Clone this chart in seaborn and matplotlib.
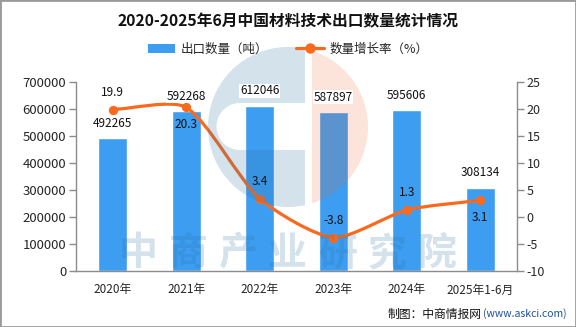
import numpy as np
import matplotlib
matplotlib.use("Agg")
import matplotlib.pyplot as plt
import seaborn as sns
from matplotlib.path import Path
from matplotlib.patches import PathPatch, Patch, Rectangle
from matplotlib.lines import Line2D
from matplotlib.transforms import Affine2D

# ---------------- data ----------------
categories = ["2020年", "2021年", "2022年", "2023年", "2024年", "2025年1-6月"]
export_volume = [492265, 592268, 612046, 587897, 595606, 308134]
growth_rate = [19.9, 20.3, 3.4, -3.8, 1.3, 3.1]
left_ticks = [0, 100000, 200000, 300000, 400000, 500000, 600000, 700000]
right_ticks = [-10, -5, 0, 5, 10, 15, 20, 25]
title = "2020-2025年6月中国材料技术出口数量统计情况"
bar_legend = "出口数量（吨）"
line_legend = "数量增长率（%）"
source_main = "制图：中商情报网"
source_url = "(www.askci.com)"
watermark = "中商产业研究院"

# ---------------- style ----------------
sns.set_theme(style="white")
plt.rcParams["font.family"] = ["Noto Sans CJK SC", "DejaVu Sans"]
plt.rcParams["axes.unicode_minus"] = False

BAR = "#3d9df1"
LINE = "#fa6a1e"
AXC = "#8c8c8c"
WM = "#286ea0"
W, H = 576, 327

fig = plt.figure(figsize=(W / 100, H / 100), dpi=100)
ax = fig.add_axes([76 / W, 1 - 271 / H, 441 / W, 189 / H])
ax2 = ax.twinx()

n = len(categories)
sns.barplot(x=categories, y=export_volume, ax=ax, color=BAR, saturation=1,
            width=0.4, zorder=1)
ax.set_xlim(-0.5, n - 0.5)
ax.set_ylim(0, 700000)
ax.set_yticks(left_ticks)
ax.set_yticklabels([str(t) for t in left_ticks], fontsize=9.5)
ax.set_xticks(range(n))
ax.set_xticklabels(categories, fontsize=8.5)
ax.set_xticks(np.arange(-0.5, n, 1.0), minor=True)
ax.tick_params(axis="x", which="major", length=0, pad=9)
ax.tick_params(axis="x", which="minor", length=5, color=AXC, width=1, direction="out")
ax.tick_params(axis="y", length=5, color=AXC, width=1, direction="out", pad=2)
ax.set_xlabel("")
ax.set_ylabel("")
for s in ["top", "right"]:
    ax.spines[s].set_visible(False)
for s in ["left", "bottom"]:
    ax.spines[s].set_color(AXC)
    ax.spines[s].set_linewidth(1)

# ---------------- growth line (smooth) ----------------
ax2.set_ylim(-10, 25)
ax2.set_xlim(-0.5, n - 0.5)
xs = np.arange(n, dtype=float)
ys = np.array(growth_rate, dtype=float)
sx, sy = 441 / n, 189 / 35.0
pts = np.column_stack([xs * sx, ys * sy])
smooth = 0.24
cps_out, cps_in = [], []
for i in range(n):
    prev = pts[i - 1] if i > 0 else pts[i]
    nxt = pts[i + 1] if i < n - 1 else pts[i]
    v = (nxt - prev) * smooth
    d0 = np.hypot(*(pts[i] - prev))
    d1 = np.hypot(*(nxt - pts[i]))
    r = d1 / (d0 + d1) if (d0 + d1) > 0 else 0.5
    cps_out.append(pts[i] + v * r)
    cps_in.append(pts[i] - v * (1 - r))
verts = [tuple(pts[0])]
codes = [Path.MOVETO]
for i in range(n - 1):
    verts += [tuple(cps_out[i]), tuple(cps_in[i + 1]), tuple(pts[i + 1])]
    codes += [Path.CURVE4] * 3
verts = np.array(verts) / np.array([sx, sy])
ax2.add_patch(PathPatch(Path(verts, codes), facecolor="none", edgecolor=LINE,
                        lw=2.3, zorder=2, capstyle="round"))
sns.scatterplot(x=xs, y=ys, ax=ax2, color=LINE, s=45, edgecolor=LINE,
                linewidth=0, zorder=3, legend=False)
ax2.set_xlim(-0.5, n - 0.5)
ax2.set_ylim(-10, 25)
ax2.set_yticks(right_ticks)
ax2.set_yticklabels([str(t) for t in right_ticks], fontsize=9)
ax2.tick_params(axis="y", length=5, color=AXC, width=1, direction="out", pad=2)
for s in ["top", "left", "bottom"]:
    ax2.spines[s].set_visible(False)
ax2.spines["right"].set_color(AXC)
ax2.spines["right"].set_linewidth(1)
ax2.set_ylabel("")

offsets = [1, -1, 1, 1, 1, -1]
for i, v in enumerate(growth_rate):
    ax2.annotate(f"{v}", (i, v), xytext=(0, 12.6 * offsets[i]),
                 textcoords="offset points", ha="center", va="center",
                 fontsize=8.5, color="#111111", zorder=6)

# bar value labels (white box, above the watermark logo)
for i, v in enumerate(export_volume):
    ax2.annotate(str(v), xy=(i, v), xycoords=ax.transData, xytext=(0, 10.8),
                 textcoords="offset points", ha="center", va="center",
                 fontsize=8.5, color="#111111", zorder=6,
                 bbox=dict(boxstyle="square,pad=0.05", facecolor="white",
                           edgecolor="none"))

# ---------------- watermark / logo (pixel coordinates) ----------------
px = Affine2D().scale(1 / W, -1 / H).translate(0, 1) + fig.transFigure
cx, cy, R = 288, 127, 80
a0 = np.arccos((305 - cx) / R)
th = np.linspace(a0, 2 * np.pi - a0, 80)
outer = np.column_stack([cx + R * np.cos(th), cy - R * np.sin(th)])
ic, ir = (240, 126.5), 23.5
th2 = np.linspace(-np.pi / 2, -3 * np.pi / 2, 40)
inner = np.column_stack([ic[0] + ir * np.cos(th2), ic[1] - ir * np.sin(th2)])
blue_poly = np.vstack([outer, [[305, 150]], inner, [[305, 103]], outer[:1]])
ax2.add_patch(plt.Polygon(blue_poly, closed=True, facecolor=WM, alpha=0.2,
                          edgecolor="none", transform=px, clip_on=False, zorder=4))
a1 = np.arccos((312 - cx) / R)
th3 = np.linspace(-a1, a1, 60)
salmon = np.column_stack([cx + R * np.cos(th3), cy - R * np.sin(th3)])
ax2.add_patch(plt.Polygon(salmon, closed=True, facecolor="#f06428", alpha=0.17,
                          edgecolor="none", transform=px, clip_on=False, zorder=4))
wx = np.linspace(138, 437, len(watermark))
for k, ch in enumerate(watermark):
    ax2.text(wx[k], 254, ch, transform=px, ha="center", va="center", fontsize=28,
             fontweight="bold", family="Noto Sans CJK SC",
             color=WM, alpha=0.2, zorder=4, clip_on=False)

# ---------------- title, legend, source ----------------
fig.text(0.5, 1 - 21 / H, title, ha="center", va="center", fontsize=11.3,
         fontweight="bold", color="#111111")
handles = [Patch(facecolor=BAR, edgecolor="none"),
           Line2D([0], [0], color=LINE, lw=2.3, marker="o", markersize=6.5)]
fig.legend(handles, [bar_legend, line_legend], loc="center",
           bbox_to_anchor=(0.5, 1 - 49 / H), ncol=2, frameon=False, fontsize=9,
           handlelength=2.2, handleheight=0.7, handletextpad=0.45, columnspacing=2.2)
fig.text(482 / W, 1 - 314 / H, source_main, ha="right", va="center", fontsize=8.5,
         color="#111111")
fig.text(483 / W, 1 - 314 / H, source_url, ha="left", va="center", fontsize=7.5,
         color="#1d4f9a")

fig.patches.append(Rectangle((0, 0), 1, 1, transform=fig.transFigure, fill=False,
                             edgecolor="#9a9a9a", lw=2, zorder=10))

fig.savefig("out.png", dpi=100)
